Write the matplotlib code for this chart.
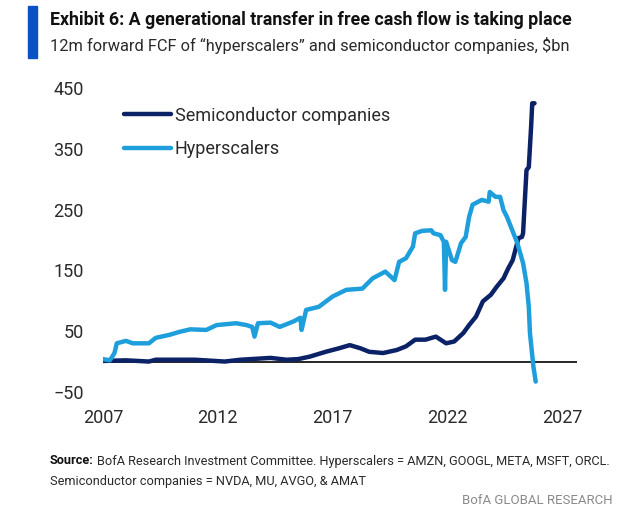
import matplotlib
matplotlib.use("Agg")
import matplotlib.pyplot as plt
from matplotlib.patches import Rectangle

plt.rcParams['font.family'] = ['Roboto', 'DejaVu Sans']

# values ($bn, 12m forward FCF)
hyper_years = [2007.0, 2007.3, 2007.5, 2007.6, 2008.0, 2008.3, 2009.0, 2009.3, 2009.9, 2010.35,
               2010.8, 2011.5, 2011.95, 2012.8, 2013.25, 2013.5, 2013.6, 2013.75, 2014.3, 2014.7,
               2015.3, 2015.6, 2015.65, 2015.85, 2016.4, 2017.0, 2017.6, 2018.3, 2018.75, 2019.3,
               2019.7, 2019.9, 2020.2, 2020.5, 2020.6, 2020.9, 2021.3, 2021.4, 2021.7, 2021.85,
               2021.9, 2021.95, 2022.2, 2022.35, 2022.6, 2022.8, 2022.95, 2023.1, 2023.5, 2023.8,
               2023.85, 2024.1, 2024.3, 2024.45, 2024.6, 2025.05, 2025.3, 2025.45, 2025.55, 2025.6,
               2025.75, 2025.85]
hyper_vals = [4, 2, 14, 30, 34, 30, 30, 39, 44, 49,
              53, 52, 60, 63, 60, 57, 41, 63, 64, 57,
              66, 72, 52, 85, 90, 107, 118, 120, 137, 148,
              134, 164, 170, 189, 211, 215, 216, 211, 208, 197,
              118, 197, 167, 164, 195, 205, 238, 258, 266, 263,
              279, 271, 271, 249, 238, 195, 162, 129, 90, 47,
              -8, -33]

semi_years = [2007.0, 2008.0, 2009.0, 2009.3, 2010.0, 2011.0, 2012.3, 2013.0, 2014.3, 2015.0,
              2015.5, 2016.0, 2016.7, 2017.3, 2017.75, 2018.2, 2018.6, 2019.2, 2019.8, 2020.2,
              2020.6, 2021.05, 2021.5, 2021.95, 2022.3, 2022.7, 2022.95, 2023.25, 2023.55, 2023.9,
              2024.15, 2024.45, 2024.65, 2024.85, 2025.1, 2025.25, 2025.3, 2025.45, 2025.55, 2025.65,
              2025.7, 2025.8]
semi_vals = [1, 2, 0, 3, 3, 3, 0, 3, 6, 3,
             4, 8, 16, 22, 27, 22, 16, 14, 19, 25,
             36, 36, 41, 30, 33, 47, 60, 74, 99, 110,
             123, 137, 153, 167, 203, 205, 211, 315, 320, 386,
             425, 425]

x_ticks = [2007, 2012, 2017, 2022, 2027]
y_ticks = [-50, 50, 150, 250, 350, 450]

navy = '#0c2266'
light = '#1e9fdc'
text_col = '#2a2a2a'

fig = plt.figure(figsize=(6.4, 5.23), dpi=100)
ax = fig.add_axes([103 / 640, 125 / 523, 474 / 640, 316 / 523])

ax.plot(semi_years, semi_vals, color=navy, lw=3.2, label='Semiconductor companies',
        solid_joinstyle='round', solid_capstyle='round')
ax.plot(hyper_years, hyper_vals, color=light, lw=3.2, label='Hyperscalers',
        solid_joinstyle='round', solid_capstyle='round')
ax.axhline(0, color='black', lw=1.2, zorder=1)

ax.set_xlim(2007, 2027.65)
ax.set_ylim(-60, 460)
ax.set_xticks(x_ticks)
ax.set_yticks(y_ticks)
ax.tick_params(length=0, labelsize=13, colors=text_col)
ax.tick_params(axis='y', pad=14)
ax.tick_params(axis='x', pad=8)
for s in ax.spines.values():
    s.set_visible(False)

leg = ax.legend(loc='upper left', bbox_to_anchor=(0.03, 0.945), frameon=False, fontsize=13,
                handlelength=2.6, handletextpad=0.2, labelspacing=0.85, borderaxespad=0)
for t in leg.get_texts():
    t.set_color(text_col)

# header
fig.patches.append(Rectangle((28 / 640, 1 - 58 / 523), 9 / 640, 52 / 523,
                             transform=fig.transFigure, color='#0a52c4'))
fig.text(50 / 640, 1 - 20 / 523, 'Exhibit 6: A generational transfer in free cash flow is taking place',
         fontsize=12.8, fontweight='bold', va='center', color='#111111')
fig.text(50 / 640, 1 - 46 / 523, '12m forward FCF of \u201chyperscalers\u201d and semiconductor companies, $bn',
         fontsize=11.8, va='center', color=text_col)

# footer
src = fig.text(50 / 640, 1 - 461 / 523, 'Source:', fontsize=9.2, fontweight='bold', va='center',
               color='#111111')
fig.canvas.draw()
bb = src.get_window_extent()
fig.text((bb.x1 + 3) / 640, 1 - 461 / 523,
         'BofA Research Investment Committee. Hyperscalers = AMZN, GOOGL, META, MSFT, ORCL.',
         fontsize=9.2, va='center', color=text_col)
fig.text(50 / 640, 1 - 482 / 523, 'Semiconductor companies = NVDA, MU, AVGO, & AMAT',
         fontsize=9.2, va='center', color=text_col)
fig.text(613 / 640, 1 - 500 / 523, 'BofA GLOBAL RESEARCH', fontsize=9.5, va='center', ha='right',
         color='#8a8a8a')

fig.savefig('out.png', dpi=100)
